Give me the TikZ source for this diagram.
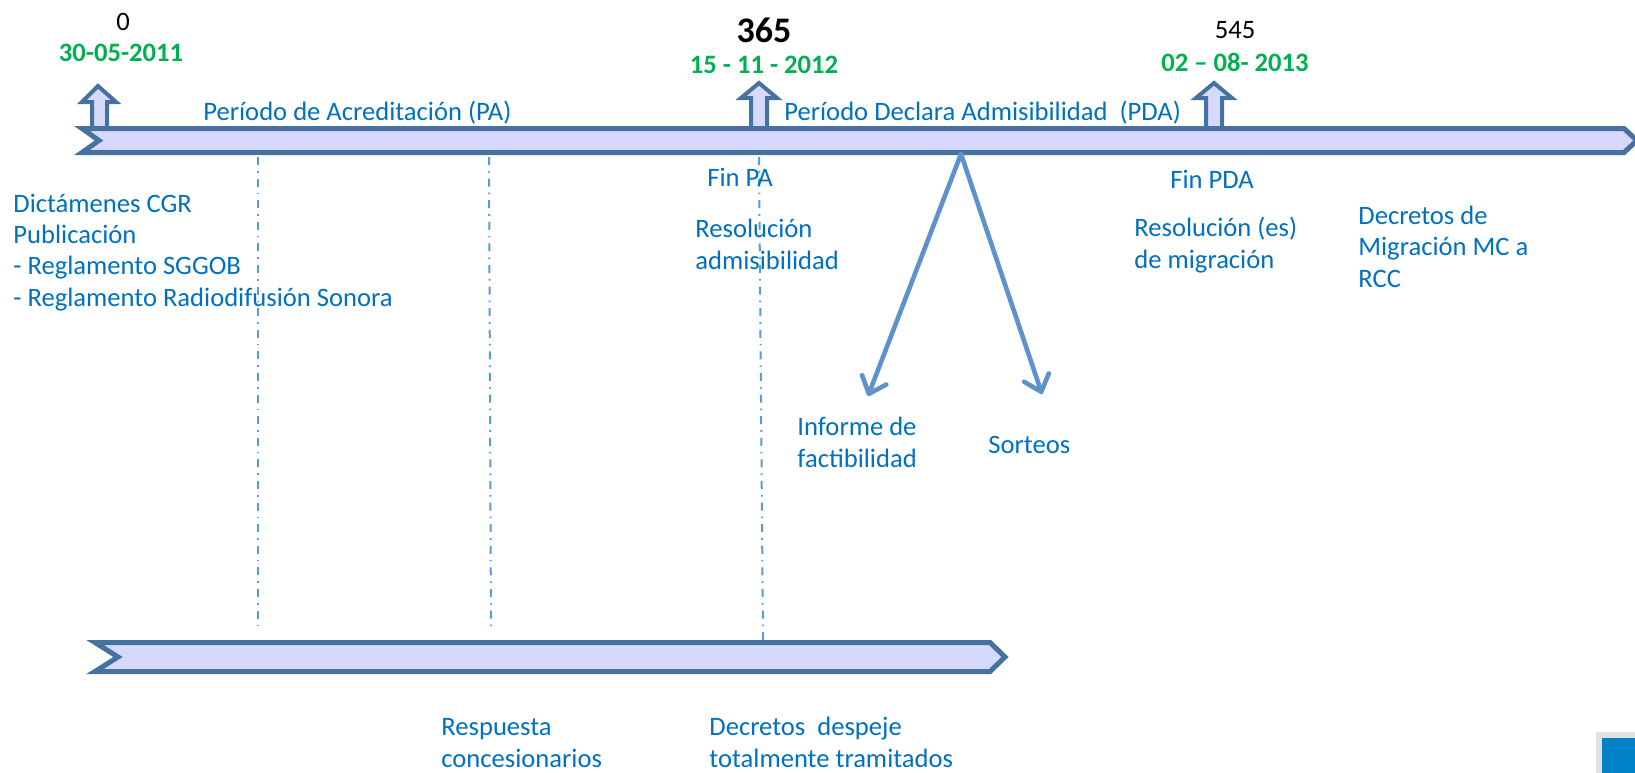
\documentclass[tikz,border=0pt]{standalone}
\usepackage{fontspec}
\setmainfont{Carlito}
\usetikzlibrary{arrows.meta}
\definecolor{barfill}{RGB}{214,216,252}
\definecolor{barline}{RGB}{70,114,160}
\definecolor{txtblue}{RGB}{0,112,192}
\definecolor{dgreen}{RGB}{0,176,80}
\definecolor{dotblue}{RGB}{91,155,213}
\definecolor{arrblue}{RGB}{95,146,204}
\definecolor{sqgray}{RGB}{225,225,225}
\definecolor{sqblue}{RGB}{0,128,198}
\tikzset{
  lbl/.style={font=\fontsize{13.3}{15.65}\selectfont, text=txtblue, inner sep=0pt, align=left, anchor=base west},
  numlbl/.style={font=\fontsize{13.3}{16}\selectfont, text=black, inner sep=0pt, anchor=base},
  datelbl/.style={font=\fontsize{13.3}{16}\selectfont\bfseries, text=dgreen, inner sep=0pt, anchor=base},
  bigbar/.style={draw=barline, fill=barfill, line width=2.5pt, miter limit=10},
  uparrow/.style={draw=barline, fill=barfill, line width=2pt},
  guide/.style={draw=dotblue, line width=1pt, dash pattern=on 4pt off 3pt on 0.8pt off 3pt},
  branch/.style={draw=arrblue, line width=2.3pt, line cap=round, -{Straight Barb[length=7.5pt,width=13pt,line cap=round,line join=round]}},
}
\begin{document}
\begin{tikzpicture}[x=0.5pt,y=-0.5pt]
\useasboundingbox (0,0) rectangle (1635,772);
\fill[white] (0,0) rectangle (1635,772);

% up arrows (markers)
\draw[uparrow] (92,131) -- (92,102) -- (82,102) -- (98,86) -- (116,102) -- (107,102) -- (107,131) -- cycle;
\draw[uparrow] (751,129) -- (751,98) -- (741,98) -- (759,83) -- (777,98) -- (767,98) -- (767,129) -- cycle;
\draw[uparrow] (1206,129) -- (1206,98) -- (1196,98) -- (1214,83) -- (1232,98) -- (1222,98) -- (1222,129) -- cycle;

% guide lines (dash-dot)
\coordinate (g1a) at (258,157); \coordinate (g1b) at (258,632);
\coordinate (g2a) at (489,157); \coordinate (g2b) at (491,632);
\coordinate (g3a) at (759,157); \coordinate (g3b) at (763,640);
\draw[guide] (g1a) -- (g1b);
\draw[guide] (g2a) -- (g2b);
\draw[guide] (g3a) -- (g3b);

% main timeline bar
\draw[bigbar] (82,128.5) -- (1624,128.5) -- (1637,140.5) -- (1624,152.5) -- (82,152.5) -- (99,140.5) -- cycle;

% lower bar
\draw[bigbar] (95,642.5) -- (990,642.5) -- (1005,657) -- (990,671.5) -- (95,671.5) -- (118,657) -- cycle;

% branching arrows
\coordinate (split) at (961,154);
\coordinate (infoTip) at (868,396);
\coordinate (sortTip) at (1042,394);
\draw[branch] (split) -- (infoTip);
\draw[branch] (split) -- (sortTip);

% top numbers and dates
\node[numlbl] (n0) at (123,30) {0};
\node[datelbl] (d0) at (121,61) {30-05-2011};
\node[numlbl, font=\fontsize{18}{20}\selectfont\bfseries] (n365) at (764,42) {365};
\node[datelbl] (d365) at (764,73) {15 - 11 - 2012};
\node[numlbl] (n545) at (1235,38) {545};
\node[datelbl] (d545) at (1235,71) {02 – 08- 2013};

% period labels
\node[lbl] (pa) at (203,120) {Período de Acreditación (PA)};
\node[lbl] (pda) at (784,120) {Período Declara Admisibilidad~~(PDA)};

% texts (base anchor = baseline of last line)
\node[lbl] (dict) at (13,306) {Dictámenes CGR\\Publicación\\- Reglamento SGGOB\\- Reglamento Radiodifusión Sonora};
\node[lbl] (finpa) at (707,186) {Fin PA};
\node[lbl] (resadm) at (695,269) {Resolución\\admisibilidad};
\node[lbl] (finpda) at (1170,188) {Fin PDA};
\node[lbl] (resmig) at (1134,268) {Resolución (es)\\de migración};
\node[lbl] (decmig) at (1358,287) {Decretos de\\Migración MC a\\RCC};
\node[lbl] (inf) at (797,467) {Informe de\\factibilidad};
\node[lbl] (sort) at (988,453) {Sorteos};
\node[lbl] (resp) at (441,767) {Respuesta\\concesionarios};
\node[lbl] (decdes) at (709,767) {Decretos~~despeje\\totalmente tramitados};

% corner square
\fill[sqgray] (1596,732) rectangle (1640,780);
\fill[sqblue] (1602,738) rectangle (1640,780);
\end{tikzpicture}
\end{document}
